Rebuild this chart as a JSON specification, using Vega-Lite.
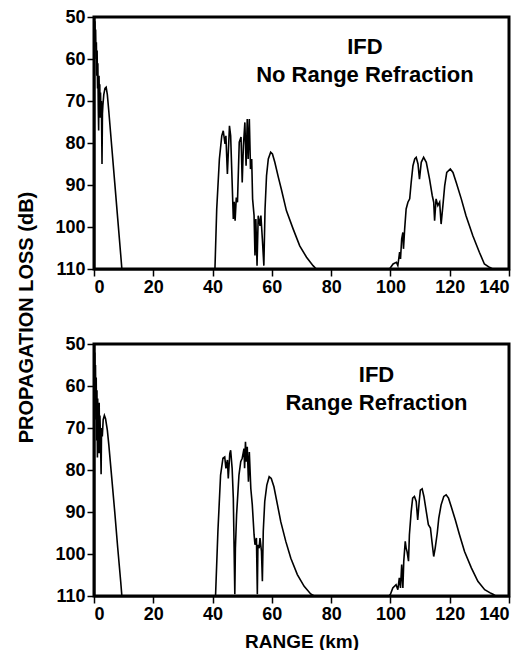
{
  "$schema": "https://vega.github.io/schema/vega-lite/v6.json",
  "autosize": {"type": "pad"},
  "padding": {"left": 14, "top": 6, "right": 12, "bottom": 4},
  "background": "white",
  "bounds": "flush",
  "spacing": 75,
  "config": {
    "view": {"stroke": "#000000", "strokeWidth": 3},
    "axis": {
      "grid": false,
      "domainColor": "black",
      "domainWidth": 2,
      "tickColor": "black",
      "tickWidth": 1.5,
      "tickSize": 7,
      "labelFont": "Liberation Sans",
      "labelFontWeight": "bold",
      "labelFontSize": 18,
      "labelColor": "black",
      "labelPadding": 2,
      "titleFont": "Liberation Sans",
      "titleFontWeight": "bold",
      "titleColor": "black"
    }
  },
  "datasets": {
    "noRefraction": [
      {"range": 0, "loss": 50}, {"range": 0.15, "loss": 53}, {"range": 0.3, "loss": 51}, {"range": 0.45, "loss": 57},
      {"range": 0.55, "loss": 53}, {"range": 0.7, "loss": 60}, {"range": 0.8, "loss": 56}, {"range": 0.95, "loss": 64},
      {"range": 1.05, "loss": 58}, {"range": 1.2, "loss": 67}, {"range": 1.3, "loss": 61}, {"range": 1.45, "loss": 72},
      {"range": 1.57, "loss": 77}, {"range": 1.7, "loss": 64}, {"range": 1.85, "loss": 71}, {"range": 1.95, "loss": 66},
      {"range": 2.1, "loss": 74}, {"range": 2.2, "loss": 68}, {"range": 2.35, "loss": 73}, {"range": 2.5, "loss": 70},
      {"range": 2.7, "loss": 85}, {"range": 2.85, "loss": 73}, {"range": 3.0, "loss": 71}, {"range": 3.3, "loss": 68.5},
      {"range": 3.7, "loss": 67}, {"range": 4.1, "loss": 66.7}, {"range": 4.5, "loss": 68.5}, {"range": 5, "loss": 72.5},
      {"range": 6, "loss": 81}, {"range": 7, "loss": 89.5}, {"range": 8, "loss": 98}, {"range": 9, "loss": 106.5},
      {"range": 9.4, "loss": 110}, {"range": 40.8, "loss": 110}, {"range": 41.4, "loss": 95.7}, {"range": 42.3, "loss": 83.8},
      {"range": 43.1, "loss": 78.3}, {"range": 43.6, "loss": 77.1}, {"range": 44.2, "loss": 80.2}, {"range": 44.5, "loss": 78.3},
      {"range": 45.0, "loss": 87.4}, {"range": 45.7, "loss": 75.9}, {"range": 46.1, "loss": 78.3}, {"range": 47.0, "loss": 98.1},
      {"range": 47.3, "loss": 94}, {"range": 47.6, "loss": 98.5}, {"range": 48.0, "loss": 93}, {"range": 48.4, "loss": 94.1},
      {"range": 49.0, "loss": 79.8}, {"range": 49.6, "loss": 78.6}, {"range": 50.0, "loss": 89.4}, {"range": 50.4, "loss": 80.6},
      {"range": 50.9, "loss": 75.1}, {"range": 51.3, "loss": 85.4}, {"range": 51.7, "loss": 74.3}, {"range": 52.0, "loss": 83.8},
      {"range": 52.4, "loss": 74.3}, {"range": 52.8, "loss": 86.2}, {"range": 53.2, "loss": 83.8}, {"range": 53.5, "loss": 93.3},
      {"range": 54.0, "loss": 97.3}, {"range": 54.3, "loss": 106.8}, {"range": 54.6, "loss": 98.1}, {"range": 55.0, "loss": 109.2},
      {"range": 55.4, "loss": 97.3}, {"range": 56.0, "loss": 99.7}, {"range": 56.3, "loss": 97.3}, {"range": 56.8, "loss": 102.9},
      {"range": 57.3, "loss": 109.2}, {"range": 57.7, "loss": 95.7}, {"range": 58.2, "loss": 87.8}, {"range": 58.8, "loss": 83.8},
      {"range": 59.6, "loss": 82.2}, {"range": 60.2, "loss": 82.6}, {"range": 61.0, "loss": 84.6}, {"range": 62.2, "loss": 88.2},
      {"range": 63.2, "loss": 91}, {"range": 64.9, "loss": 96.1}, {"range": 67.2, "loss": 100.5}, {"range": 69.4, "loss": 104.5},
      {"range": 71.7, "loss": 107.2}, {"range": 73.9, "loss": 109.2}, {"range": 75.0, "loss": 110}, {"range": 99.7, "loss": 110},
      {"range": 100.9, "loss": 108.8}, {"range": 102.0, "loss": 108.4}, {"range": 102.5, "loss": 109.2}, {"range": 103.1, "loss": 106.0},
      {"range": 103.4, "loss": 107.6}, {"range": 103.8, "loss": 102.8}, {"range": 104.2, "loss": 101.3}, {"range": 104.4, "loss": 105.2},
      {"range": 104.8, "loss": 100.5}, {"range": 105.3, "loss": 95.7}, {"range": 105.9, "loss": 94.1}, {"range": 106.5, "loss": 93.3},
      {"range": 107.0, "loss": 89.4}, {"range": 107.6, "loss": 85.4}, {"range": 108.2, "loss": 83.8}, {"range": 108.7, "loss": 83.4},
      {"range": 109.3, "loss": 85.0}, {"range": 109.8, "loss": 88.6}, {"range": 110.4, "loss": 84.6}, {"range": 111.2, "loss": 83.4},
      {"range": 112.1, "loss": 84.6}, {"range": 113.2, "loss": 88.6}, {"range": 114.1, "loss": 92.5}, {"range": 114.6, "loss": 94.1},
      {"range": 114.9, "loss": 98.5}, {"range": 115.4, "loss": 93.3}, {"range": 116.0, "loss": 94.9}, {"range": 116.6, "loss": 94.1},
      {"range": 117.1, "loss": 99.3}, {"range": 117.7, "loss": 94.9}, {"range": 118.3, "loss": 90.2}, {"range": 119.0, "loss": 87.0},
      {"range": 120.2, "loss": 86.2}, {"range": 121.1, "loss": 87.0}, {"range": 122.2, "loss": 89.4}, {"range": 123.9, "loss": 93.3},
      {"range": 125.5, "loss": 97.3}, {"range": 127.8, "loss": 102.1}, {"range": 130.0, "loss": 106.0}, {"range": 131.7, "loss": 108.8},
      {"range": 133.4, "loss": 109.6}, {"range": 134.5, "loss": 110}, {"range": 140, "loss": 110}
    ],
    "rangeRefraction": [
      {"range": 0, "loss": 50}, {"range": 0.15, "loss": 58}, {"range": 0.25, "loss": 52}, {"range": 0.4, "loss": 62},
      {"range": 0.5, "loss": 55}, {"range": 0.65, "loss": 68}, {"range": 0.75, "loss": 58}, {"range": 0.9, "loss": 73},
      {"range": 1.0, "loss": 61}, {"range": 1.15, "loss": 77}, {"range": 1.25, "loss": 63}, {"range": 1.4, "loss": 76},
      {"range": 1.5, "loss": 65}, {"range": 1.65, "loss": 72}, {"range": 1.75, "loss": 64}, {"range": 1.9, "loss": 76},
      {"range": 2.0, "loss": 67}, {"range": 2.15, "loss": 71}, {"range": 2.4, "loss": 81}, {"range": 2.55, "loss": 70},
      {"range": 2.8, "loss": 72}, {"range": 3.1, "loss": 68}, {"range": 3.5, "loss": 67}, {"range": 3.9, "loss": 67.8},
      {"range": 4.5, "loss": 70.5}, {"range": 5, "loss": 74}, {"range": 6, "loss": 82}, {"range": 7, "loss": 90},
      {"range": 8, "loss": 98.5}, {"range": 9, "loss": 106.5}, {"range": 9.4, "loss": 110}, {"range": 41.0, "loss": 110},
      {"range": 41.8, "loss": 94.6}, {"range": 42.7, "loss": 81.2}, {"range": 43.5, "loss": 77.2}, {"range": 44.1, "loss": 76.9},
      {"range": 44.5, "loss": 79.6}, {"range": 45.0, "loss": 77.6}, {"range": 45.3, "loss": 82.0}, {"range": 45.8, "loss": 76.1},
      {"range": 46.1, "loss": 75.3}, {"range": 46.6, "loss": 79.6}, {"range": 47.0, "loss": 86.7}, {"range": 47.5, "loss": 109.6},
      {"range": 47.7, "loss": 98.6}, {"range": 48.1, "loss": 90.7}, {"range": 48.9, "loss": 81.2}, {"range": 49.5, "loss": 78.0},
      {"range": 50.0, "loss": 77.2}, {"range": 50.6, "loss": 74.9}, {"range": 50.8, "loss": 79.6}, {"range": 51.1, "loss": 73.3},
      {"range": 51.4, "loss": 78.0}, {"range": 51.7, "loss": 74.5}, {"range": 52.1, "loss": 82.8}, {"range": 52.4, "loss": 75.7},
      {"range": 52.9, "loss": 84.4}, {"range": 53.4, "loss": 88.3}, {"range": 54.0, "loss": 95.4}, {"range": 54.3, "loss": 97.8},
      {"range": 54.8, "loss": 96.2}, {"range": 55.1, "loss": 109.6}, {"range": 55.3, "loss": 97.8}, {"range": 55.7, "loss": 98.6},
      {"range": 56.0, "loss": 96.2}, {"range": 56.5, "loss": 99.4}, {"range": 56.8, "loss": 106.5}, {"range": 57.1, "loss": 94.6},
      {"range": 57.6, "loss": 87.5}, {"range": 58.3, "loss": 83.6}, {"range": 59.1, "loss": 81.6}, {"range": 59.8, "loss": 82.0},
      {"range": 60.7, "loss": 84.0}, {"range": 61.9, "loss": 88.3}, {"range": 63.0, "loss": 92.3}, {"range": 64.7, "loss": 97.0},
      {"range": 66.4, "loss": 101.0}, {"range": 68.6, "loss": 104.9}, {"range": 70.9, "loss": 107.7}, {"range": 73.1, "loss": 109.5},
      {"range": 74.3, "loss": 110}, {"range": 99.5, "loss": 110}, {"range": 100.0, "loss": 109.6}, {"range": 100.8, "loss": 108.1},
      {"range": 101.9, "loss": 107.3}, {"range": 102.5, "loss": 108.5}, {"range": 103.0, "loss": 105.7}, {"range": 103.4, "loss": 108.1},
      {"range": 103.8, "loss": 102.5}, {"range": 104.2, "loss": 108.1}, {"range": 104.5, "loss": 101.7}, {"range": 105.0, "loss": 97.0},
      {"range": 105.3, "loss": 98.6}, {"range": 105.6, "loss": 99.4}, {"range": 106.1, "loss": 101.7}, {"range": 106.4, "loss": 95.4},
      {"range": 107.0, "loss": 89.9}, {"range": 107.5, "loss": 86.7}, {"range": 108.1, "loss": 86.3}, {"range": 108.7, "loss": 87.5},
      {"range": 109.2, "loss": 91.9}, {"range": 109.7, "loss": 87.5}, {"range": 110.1, "loss": 84.8}, {"range": 110.7, "loss": 84.5},
      {"range": 111.3, "loss": 86.3}, {"range": 112.1, "loss": 89.9}, {"range": 112.8, "loss": 93.0}, {"range": 113.5, "loss": 93.8},
      {"range": 114.0, "loss": 97.0}, {"range": 114.6, "loss": 100.6}, {"range": 115.1, "loss": 98.6}, {"range": 115.8, "loss": 95.0},
      {"range": 116.3, "loss": 91.5}, {"range": 117.1, "loss": 88.3}, {"range": 118.0, "loss": 86.3}, {"range": 118.8, "loss": 85.9},
      {"range": 119.6, "loss": 86.7}, {"range": 120.5, "loss": 88.7}, {"range": 121.9, "loss": 91.9}, {"range": 123.3, "loss": 95.4},
      {"range": 125.0, "loss": 99.4}, {"range": 127.3, "loss": 103.3}, {"range": 129.5, "loss": 106.5}, {"range": 131.8, "loss": 108.5},
      {"range": 133.5, "loss": 109.2}, {"range": 134.6, "loss": 109.6}, {"range": 135.5, "loss": 110}, {"range": 140, "loss": 110}
    ],
    "noRefractionLabel": [{"model": "IFD", "case": "No Range Refraction"}],
    "rangeRefractionLabel": [{"model": "IFD", "case": "Range Refraction"}]
  },
  "vconcat": [
    {
      "width": 415,
      "height": 252,
      "layer": [
        {
          "data": {"name": "noRefraction"},
          "mark": {"type": "line", "color": "black", "strokeWidth": 1.6},
          "encoding": {
            "x": {"field": "range", "type": "quantitative", "scale": {"domain": [0, 140], "nice": false},
                  "axis": {"values": [0, 20, 40, 60, 80, 100, 120, 140], "title": null}},
            "y": {"field": "loss", "type": "quantitative", "scale": {"domain": [50, 110], "reverse": true, "nice": false, "zero": false},
                  "axis": {"values": [50, 60, 70, 80, 90, 100, 110], "title": "PROPAGATION LOSS (dB)", "titleFontSize": 20,
                           "titleX": -68, "titleY": 300, "titleBaseline": "middle", "titleAlign": "center", "titleAngle": 270}}
          }
        },
        {
          "data": {"name": "noRefractionLabel"},
          "mark": {"type": "text", "font": "Liberation Sans", "fontWeight": "bold", "fontSize": 22,
                   "align": "center", "baseline": "middle", "color": "black"},
          "encoding": {
            "x": {"datum": 91.4, "type": "quantitative"},
            "y": {"datum": 57.1, "type": "quantitative"},
            "text": {"field": "model"}
          }
        },
        {
          "data": {"name": "noRefractionLabel"},
          "mark": {"type": "text", "font": "Liberation Sans", "fontWeight": "bold", "fontSize": 22,
                   "align": "center", "baseline": "middle", "color": "black"},
          "encoding": {
            "x": {"datum": 91.4, "type": "quantitative"},
            "y": {"datum": 63.8, "type": "quantitative"},
            "text": {"field": "case"}
          }
        }
      ]
    },
    {
      "width": 415,
      "height": 252,
      "layer": [
        {
          "data": {"name": "rangeRefraction"},
          "mark": {"type": "line", "color": "black", "strokeWidth": 1.6},
          "encoding": {
            "x": {"field": "range", "type": "quantitative", "scale": {"domain": [0, 140], "nice": false},
                  "axis": {"values": [0, 20, 40, 60, 80, 100, 120, 140], "title": "RANGE (km)", "titleFontSize": 19, "titlePadding": 9}},
            "y": {"field": "loss", "type": "quantitative", "scale": {"domain": [50, 110], "reverse": true, "nice": false, "zero": false},
                  "axis": {"values": [50, 60, 70, 80, 90, 100, 110], "title": null}}
          }
        },
        {
          "data": {"name": "rangeRefractionLabel"},
          "mark": {"type": "text", "font": "Liberation Sans", "fontWeight": "bold", "fontSize": 22,
                   "align": "center", "baseline": "middle", "color": "black"},
          "encoding": {
            "x": {"datum": 95.3, "type": "quantitative"},
            "y": {"datum": 57.3, "type": "quantitative"},
            "text": {"field": "model"}
          }
        },
        {
          "data": {"name": "rangeRefractionLabel"},
          "mark": {"type": "text", "font": "Liberation Sans", "fontWeight": "bold", "fontSize": 22,
                   "align": "center", "baseline": "middle", "color": "black"},
          "encoding": {
            "x": {"datum": 95.3, "type": "quantitative"},
            "y": {"datum": 64.1, "type": "quantitative"},
            "text": {"field": "case"}
          }
        }
      ]
    }
  ]
}
